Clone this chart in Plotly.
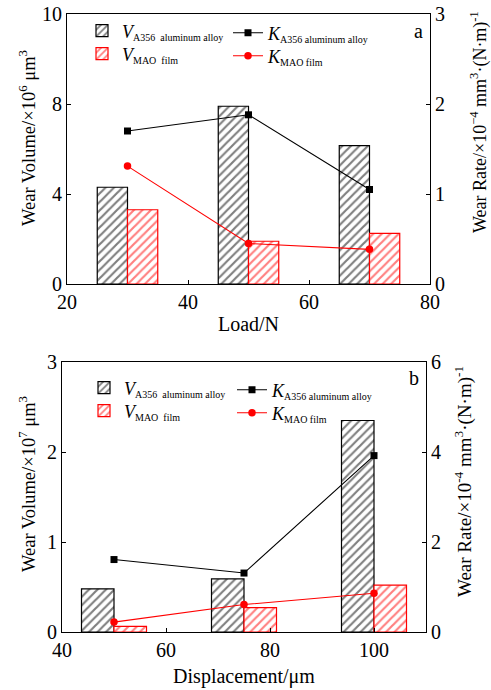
import plotly.graph_objects as go

# ---------------- data ----------------
load = [30, 50, 70]
vol_a356_load = [4.3, 7.9, 6.15]        # x10^6 um^3
vol_mao_load = [3.3, 1.9, 2.25]
k_a356_load = [1.70, 1.88, 1.05]        # x10^-4 mm^3/(N m)
k_mao_load = [1.31, 0.45, 0.385]

disp = [50, 75, 100]
vol_a356_disp = [0.48, 0.59, 2.35]      # x10^7 um^3
vol_mao_disp = [0.063, 0.27, 0.52]
k_a356_disp = [1.61, 1.31, 3.92]
k_mao_disp = [0.22, 0.61, 0.86]

top_left_tickvals = [0, 4, 8, 12]
top_left_ticktext = ["0", "4", "8", "10"]

SUB = "<sub><span style='font-size:10px'>{}</span></sub>"
names = {
    "va": "<i>V</i>" + SUB.format("A356  aluminum alloy"),
    "vm": "<i>V</i>" + SUB.format("MAO  film"),
    "ka": "<i>K</i>" + SUB.format("A356 aluminum alloy"),
    "km": "<i>K</i>" + SUB.format("MAO film"),
}

FONT = "Liberation Serif"
BLACK = "#000000"
RED = "#ff0000"
W, H = 491, 690

fig = go.Figure()


def add_panel(x, va, vm, ka, km, bw, xa, ya, ya2, legs):
    fig.add_trace(go.Bar(x=x, y=va, width=bw, offset=-bw, name=names["va"],
                         marker=dict(color="white", line=dict(color=BLACK, width=1.2),
                                     pattern=dict(shape="/", fgcolor=BLACK, bgcolor="white",
                                                  size=6, solidity=0.36)),
                         showlegend=True, xaxis=xa, yaxis=ya, legend=legs[0]))
    fig.add_trace(go.Bar(x=x, y=vm, width=bw, offset=0, name=names["vm"],
                         marker=dict(color="white", line=dict(color=RED, width=1.2),
                                     pattern=dict(shape="/", fgcolor=RED, bgcolor="white",
                                                  size=6, solidity=0.36)),
                         showlegend=True, xaxis=xa, yaxis=ya, legend=legs[1]))
    fig.add_trace(go.Scatter(x=x, y=ka, mode="lines+markers", name=names["ka"],
                             line=dict(color=BLACK, width=1.1),
                             marker=dict(symbol="square", size=7, color=BLACK),
                             showlegend=True, xaxis=xa, yaxis=ya2, legend=legs[2]))
    fig.add_trace(go.Scatter(x=x, y=km, mode="lines+markers", name=names["km"],
                             line=dict(color=RED, width=1.1),
                             marker=dict(symbol="circle", size=7.5, color=RED),
                             showlegend=True, xaxis=xa, yaxis=ya2, legend=legs[3]))


add_panel(load, vol_a356_load, vol_mao_load, k_a356_load, k_mao_load, 5,
          "x", "y", "y2", ["legend", "legend2", "legend3", "legend4"])
add_panel(disp, vol_a356_disp, vol_mao_disp, k_a356_disp, k_mao_disp, 6.25,
          "x2", "y3", "y4", ["legend5", "legend6", "legend7", "legend8"])

axis_common = dict(showline=True, linecolor=BLACK, linewidth=1.2, ticks="inside",
                   ticklen=4, tickcolor=BLACK, tickwidth=1.2, showgrid=False,
                   zeroline=False, tickfont=dict(family=FONT, size=20, color=BLACK),
                   automargin=False)
title_font = dict(family=FONT, size=20, color=BLACK)

# panel geometry (pixels)
ax_l, ax_r, ay_t, ay_b = 67, 430, 14, 284
bx_l, bx_r, by_t, by_b = 62, 426, 362, 632

layout = dict(
    width=W, height=H, margin=dict(l=0, r=0, t=0, b=0),
    paper_bgcolor="white", plot_bgcolor="white", showlegend=True,
    barmode="overlay", font=dict(family=FONT, color=BLACK),
    xaxis=dict(domain=[ax_l / W, ax_r / W], anchor="y", range=[20, 80],
               tickvals=[20, 40, 60, 80], mirror=True,
               title=dict(text="Load/N", font=title_font, standoff=4), **axis_common),
    yaxis=dict(domain=[1 - ay_b / H, 1 - ay_t / H], anchor="x", range=[0, 12],
               tickvals=top_left_tickvals, ticktext=top_left_ticktext, **axis_common),
    yaxis2=dict(overlaying="y", side="right", anchor="x", range=[0, 3],
                tickvals=[0, 1, 2, 3], **axis_common),
    xaxis2=dict(domain=[bx_l / W, bx_r / W], anchor="y3", range=[40, 110],
                tickvals=[40, 60, 80, 100], mirror=True,
                title=dict(text="Displacement/μm", font=title_font, standoff=8), **axis_common),
    yaxis3=dict(domain=[1 - by_b / H, 1 - by_t / H], anchor="x2", range=[0, 3],
                tickvals=[0, 1, 2, 3], **axis_common),
    yaxis4=dict(overlaying="y3", side="right", anchor="x2", range=[0, 6],
                tickvals=[0, 2, 4, 6], **axis_common),
)

leg_font = dict(family=FONT, size=18, color=BLACK)


def leg(px, py):
    return dict(x=px / W, y=1 - py / H, xanchor="left", yanchor="middle",
                bgcolor="rgba(0,0,0,0)", borderwidth=0, font=leg_font,
                itemwidth=30, tracegroupgap=0, visible=True)


# top legends
layout["legend"] = leg(82, 31)
layout["legend2"] = leg(82, 54)
layout["legend3"] = leg(228, 33)
layout["legend4"] = leg(228, 56)
# bottom legends
layout["legend5"] = leg(84, 388)
layout["legend6"] = leg(84, 411)
layout["legend7"] = leg(232, 390)
layout["legend8"] = leg(232, 413)


def ann(text, px, py, size=20, angle=0):
    return dict(text=text, x=px / W, y=1 - py / H, xref="paper", yref="paper",
                xanchor="center", yanchor="middle", showarrow=False, textangle=angle,
                font=dict(family=FONT, size=size, color=BLACK))


layout["annotations"] = [
    ann("a", 418, 31),
    ann("b", 414, 378),
    ann("Wear Volume/×10<sup>6</sup> μm<sup>3</sup>", 27, 138, 18.5, -90),
    ann("Wear Rate/×10<sup>−4</sup> mm<sup>3</sup>·(N·m)<sup>-1</sup>", 479, 122, 18, -90),
    ann("Wear Volume/×10<sup>7</sup> μm<sup>3</sup>", 27, 484, 18.5, -90),
    ann("Wear Rate/×10<sup>-4</sup> mm<sup>3</sup>·(N·m)<sup>-1</sup>", 463, 482, 19, -90),
]

fig.update_layout(**layout)
fig.write_html("out.html", config={"displayModeBar": False},
               post_script="document.body.style.margin='0';")
